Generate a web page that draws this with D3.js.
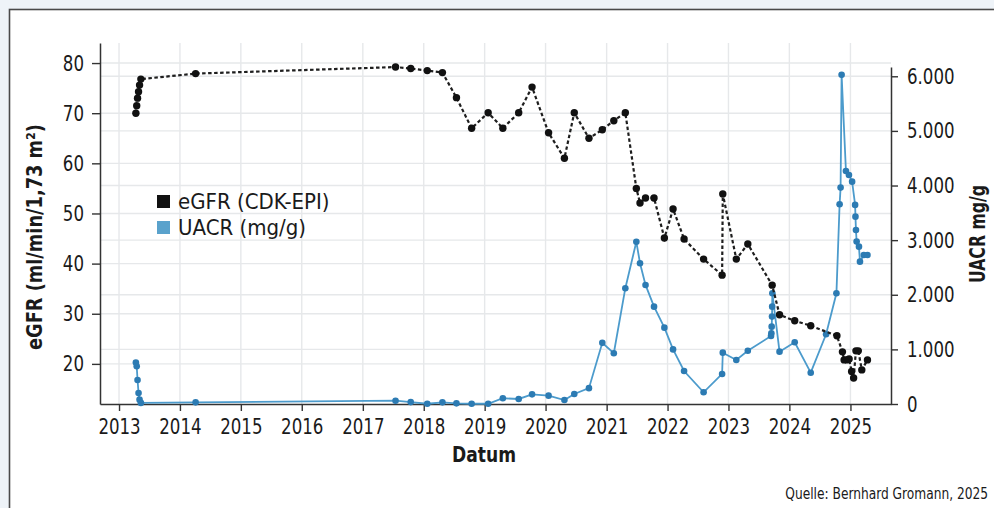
<!DOCTYPE html>
<html>
<head>
<meta charset="utf-8">
<script src="https://cdn.jsdelivr.net/npm/d3@7"></script>
<style>
  html, body { margin: 0; padding: 0; background: #eef3f8; }
  svg { display: block; }
  text { font-family: 'Liberation Sans Narrow', 'DejaVu Sans Condensed', 'Roboto Condensed', sans-serif; fill: #1a1a1a; }
</style>
</head>
<body>
<svg id="chart" width="994" height="508"></svg>
<script>
// eGFR (CKD-EPI) measurements, ml/min/1,73 m²
const egfrDates = [
  "2013-04-12","2013-04-17","2013-04-22","2013-04-28","2013-05-04","2013-05-12",
  "2014-04-05","2017-07-16","2017-10-15","2018-01-22","2018-04-23","2018-07-16",
  "2018-10-15","2019-01-22","2019-04-20","2019-07-24","2019-10-12","2020-01-19",
  "2020-04-23","2020-06-21","2020-09-17","2020-12-06","2021-02-13","2021-04-23",
  "2021-06-28","2021-07-20","2021-08-22","2021-10-12","2021-12-13","2022-02-03",
  "2022-04-10","2022-08-05","2022-11-24","2022-11-28","2023-02-17","2023-04-27",
  "2023-09-20","2023-11-03","2024-02-02","2024-05-08","2024-10-12",
  "2024-11-14","2024-11-24","2024-12-10","2024-12-24","2025-01-08","2025-01-20",
  "2025-02-03","2025-02-17","2025-03-10","2025-04-13"
];
const egfrValues = [
  70.0, 71.5, 73.0, 74.3, 75.6, 76.8,
  77.9, 79.2, 78.9, 78.5, 78.1, 73.1,
  67.0, 70.1, 67.0, 70.1, 75.2, 66.1,
  61.0, 70.1, 65.0, 66.7, 68.5, 70.1,
  55.0, 52.1, 53.1, 53.1, 45.1, 50.9,
  44.9, 40.9, 37.7, 53.9, 40.9, 43.9,
  35.7, 29.8, 28.6, 27.6, 25.6,
  22.4, 20.8, 20.8, 21.0, 18.5, 17.2,
  22.6, 22.6, 18.8, 20.8
];

// UACR measurements, mg/g
const uacrDates = [
  "2013-04-12","2013-04-17","2013-04-22","2013-04-28","2013-05-04","2013-05-12",
  "2014-04-05","2017-07-16","2017-10-15","2018-01-22","2018-04-23","2018-07-16",
  "2018-10-15","2019-01-22","2019-04-20","2019-07-24","2019-10-12","2020-01-19",
  "2020-04-23","2020-06-21","2020-09-17","2020-12-06","2021-02-13","2021-04-23",
  "2021-06-28","2021-07-20","2021-08-22","2021-10-12","2021-12-13","2022-02-03",
  "2022-04-10","2022-08-05","2022-11-24","2022-11-28","2023-02-17","2023-04-27",
  "2023-09-13","2023-09-15","2023-09-17","2023-09-19","2023-09-20","2023-09-21",
  "2023-11-03","2024-02-02","2024-05-08","2024-08-08","2024-10-09",
  "2024-10-28","2024-11-03","2024-11-09","2024-12-05","2024-12-23","2025-01-11",
  "2025-01-29","2025-01-31","2025-02-03","2025-02-07","2025-02-21","2025-02-27",
  "2025-03-22","2025-04-13"
];
const uacrValues = [
  760, 690, 440, 200, 80, 20,
  30, 60, 35, 5, 30, 12,
  5, 5, 105, 92, 177, 153,
  73, 183, 290, 1120, 930, 2120,
  2970, 2577, 2180, 1782, 1398, 1000,
  604, 214, 550, 940, 806, 976,
  1245, 1295, 1416, 1600, 1782, 2027,
  958, 1130, 573, 1277, 2027,
  3657, 3962, 6026, 4267, 4194, 4071,
  3645, 3430, 3187, 2973, 2881, 2606,
  2729, 2729
];

const egfrTicks = [20, 30, 40, 50, 60, 70, 80];
const uacrTicks = [0, 1000, 2000, 3000, 4000, 5000, 6000];
const yearTicks = d3.range(2013, 2026);

const legendLabels = ["eGFR (CDK-EPI)", "UACR (mg/g)"];
const axisTitles = { x: "Datum", left: "eGFR (ml/min/1,73 m²)", right: "UACR mg/g" };
const sourceNote = "Quelle: Bernhard Gromann, 2025";

const parse = d3.timeParse("%Y-%m-%d");
const egfr = egfrDates.map((d, i) => ({ date: parse(d), value: egfrValues[i] }));
const uacr = uacrDates.map((d, i) => ({ date: parse(d), value: uacrValues[i] }));

const svg = d3.select("#chart");
const W = 994, H = 508;
const plot = { left: 100, right: 891, top: 43, bottom: 404 };

// narrow a text run horizontally, keeping its glyph height
function squeeze(sel, factor) {
  sel.each(function () {
    const len = this.getComputedTextLength();
    d3.select(this).attr("textLength", len * factor).attr("lengthAdjust", "spacingAndGlyphs");
  });
}
// fit a single text run to a set width
function fitTo(sel, width) {
  sel.attr("textLength", width).attr("lengthAdjust", "spacingAndGlyphs");
}

// framed white panel
svg.append("rect")
  .attr("x", 9.5).attr("y", 9.5)
  .attr("width", W + 20).attr("height", H + 20)
  .attr("fill", "#ffffff").attr("stroke", "#4a4a4a").attr("stroke-width", 1.6);

const x = d3.scaleTime()
  .domain([new Date(2012, 8, 9), new Date(2025, 8, 1)])
  .range([plot.left, plot.right]);
const yL = d3.scaleLinear().domain([12, 84]).range([plot.bottom, plot.top]);
const yR = d3.scaleLinear().domain([0, 6170]).range([plot.bottom, 67]);

const yearDates = yearTicks.map(y => new Date(y, 0, 1));

// grid
const grid = svg.append("g").attr("stroke", "#e6e8ea").attr("stroke-width", 1.4);
grid.selectAll(".gx").data(yearDates).join("line")
  .attr("x1", d => x(d)).attr("x2", d => x(d))
  .attr("y1", plot.top).attr("y2", plot.bottom);
grid.selectAll(".gl").data(egfrTicks).join("line")
  .attr("x1", plot.left).attr("x2", plot.right)
  .attr("y1", d => yL(d)).attr("y2", d => yL(d));
grid.selectAll(".gr").data(uacrTicks.filter(d => d > 0)).join("line")
  .attr("x1", plot.left).attr("x2", plot.right)
  .attr("y1", d => yR(d)).attr("y2", d => yR(d));

// axes
const fmtDE = d3.formatLocale({ decimal: ",", thousands: ".", grouping: [3], currency: ["", " €"] }).format(",");

function styleAxis(g) {
  g.select(".domain").attr("stroke", "#333").attr("stroke-width", 1.5);
  g.selectAll(".tick line").attr("stroke", "#333").attr("stroke-width", 1.4);
  g.selectAll(".tick text").attr("font-size", 22).attr("fill", "#1a1a1a").call(squeeze, 0.84);
}

svg.append("g")
  .attr("transform", `translate(0,${plot.bottom})`)
  .call(d3.axisBottom(x).tickValues(yearDates).tickFormat(d3.timeFormat("%Y")).tickSize(7).tickPadding(7).tickSizeOuter(0))
  .call(styleAxis);

svg.append("g")
  .attr("transform", `translate(${plot.left},0)`)
  .call(d3.axisLeft(yL).tickValues(egfrTicks).tickSize(8).tickPadding(8).tickSizeOuter(0))
  .call(styleAxis);

svg.append("g")
  .attr("transform", `translate(${plot.right},0)`)
  .call(d3.axisRight(yR).tickValues(uacrTicks).tickFormat(fmtDE).tickSize(7).tickPadding(9).tickSizeOuter(0))
  .call(styleAxis);

// axis titles
svg.append("text").attr("x", 484).attr("y", 462).attr("text-anchor", "middle")
  .attr("font-size", 22).attr("font-weight", "bold").text(axisTitles.x).call(fitTo, 64);
svg.append("text").attr("transform", "translate(42,237) rotate(-90)").attr("text-anchor", "middle")
  .attr("font-size", 22).attr("font-weight", "bold").text(axisTitles.left).call(fitTo, 226);
svg.append("text").attr("transform", "translate(985,234) rotate(-90)").attr("text-anchor", "middle")
  .attr("font-size", 22).attr("font-weight", "bold").text(axisTitles.right).call(fitTo, 98);

// UACR series
const blueLine = "#4c9bcc", blueDot = "#2c7bb3";
svg.append("path").datum(uacr)
  .attr("fill", "none").attr("stroke", blueLine).attr("stroke-width", 1.8)
  .attr("d", d3.line().x(d => x(d.date)).y(d => yR(d.value)));
svg.append("g").selectAll("circle").data(uacr).join("circle")
  .attr("cx", d => x(d.date)).attr("cy", d => yR(d.value)).attr("r", 3.3)
  .attr("fill", blueDot);

// eGFR series
svg.append("path").datum(egfr)
  .attr("fill", "none").attr("stroke", "#1e1e1e").attr("stroke-width", 2.2)
  .attr("stroke-dasharray", "3.5,2.5")
  .attr("d", d3.line().x(d => x(d.date)).y(d => yL(d.value)));
svg.append("g").selectAll("circle").data(egfr).join("circle")
  .attr("cx", d => x(d.date)).attr("cy", d => yL(d.value)).attr("r", 3.7)
  .attr("fill", "#111");

// legend
const legendColors = ["#111111", "#5aa2cc"];
const lg = svg.append("g").attr("transform", "translate(157,195)");
legendLabels.forEach((t, i) => {
  lg.append("rect").attr("x", 0).attr("y", i * 26).attr("width", 13).attr("height", 13).attr("fill", legendColors[i]);
  lg.append("text").attr("x", 21).attr("y", i * 26 + 14).attr("font-size", 22).text(t);
});

// source
svg.append("text").attr("transform", "translate(988,499) scale(0.85,1)").attr("text-anchor", "end")
  .attr("font-size", 16).text(sourceNote);
</script>
</body>
</html>
